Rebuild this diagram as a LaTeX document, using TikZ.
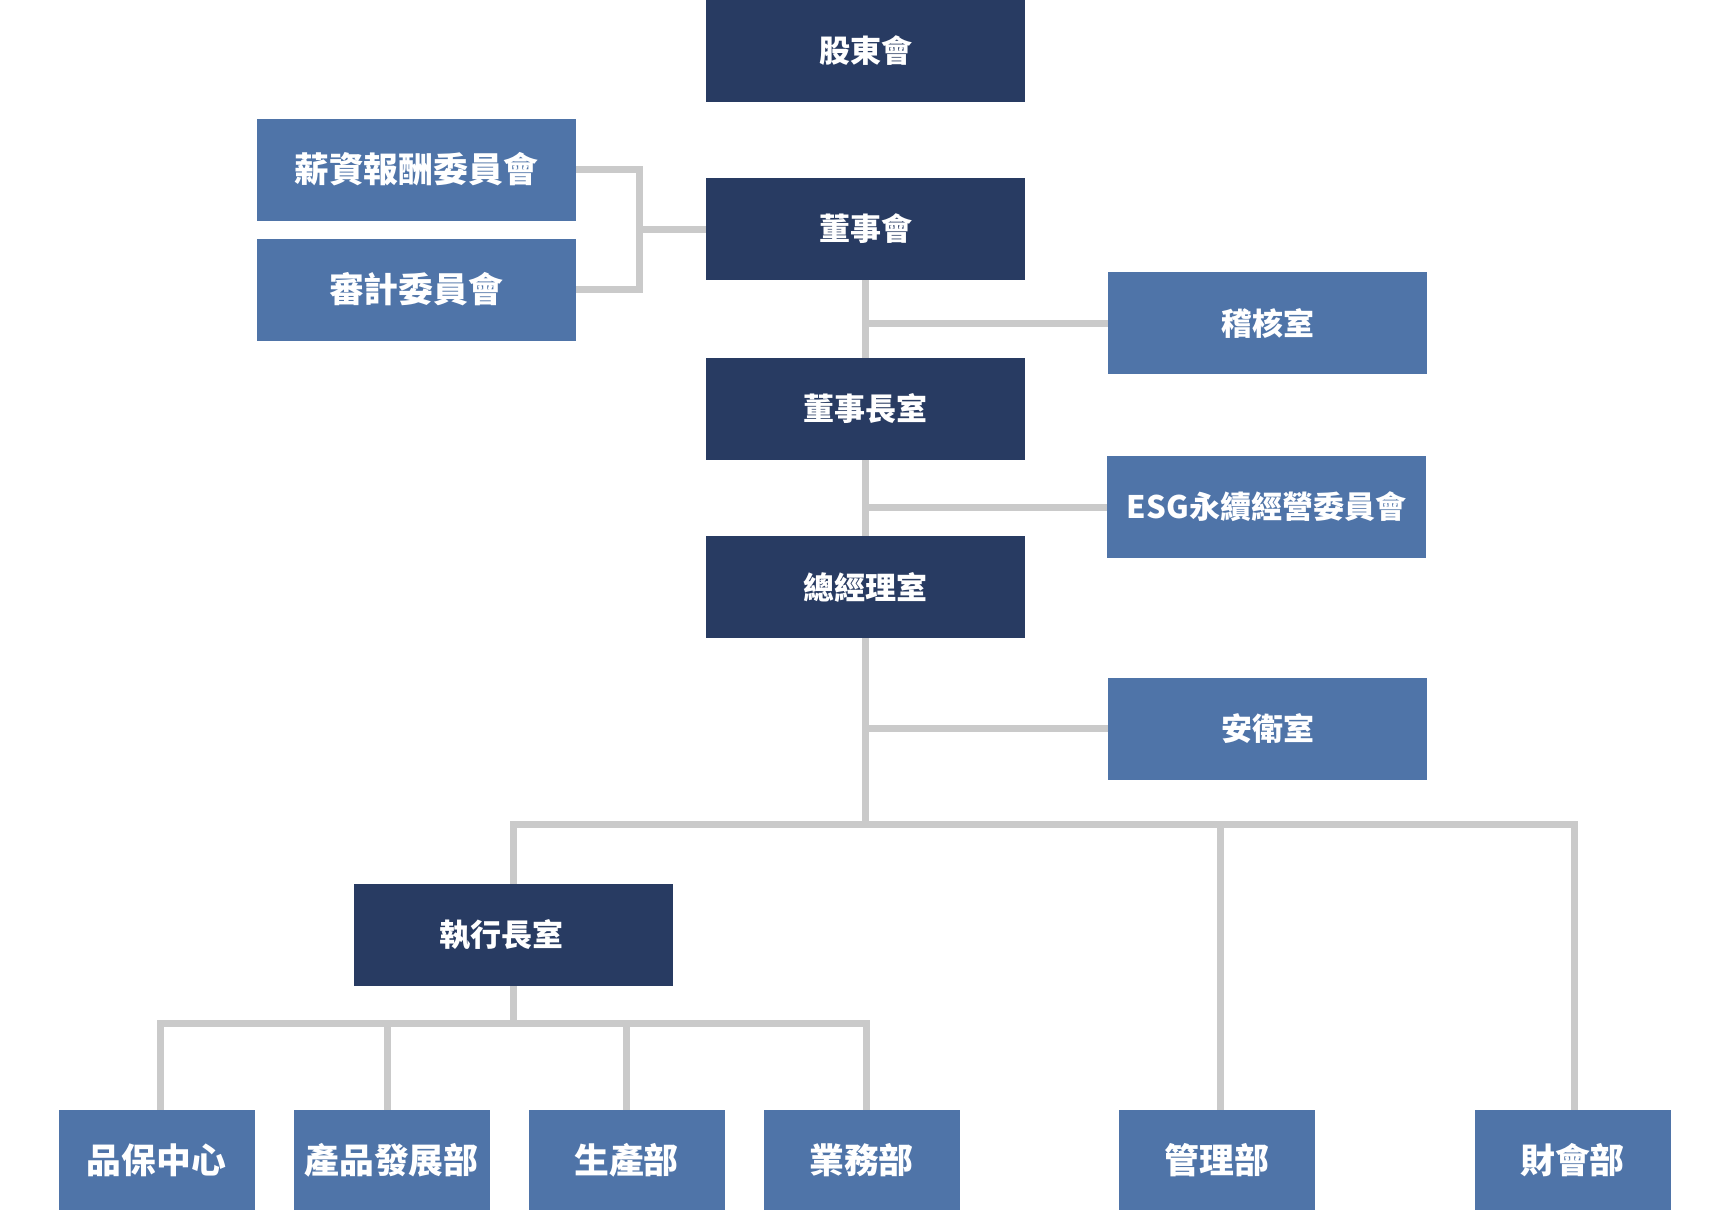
\documentclass[tikz,border=0pt]{standalone}
\usepackage{fontspec}
\setmainfont{Noto Sans CJK TC}
\usepackage{tikz}
\usetikzlibrary{positioning}
\definecolor{navy}{HTML}{283B62}
\definecolor{steel}{HTML}{4F74A8}
\definecolor{linegray}{HTML}{CACACA}

\begin{document}
\begin{tikzpicture}[x=0.5pt, y=-0.5pt,
        topnode/.style={rectangle, fill=navy, text=white, minimum width=159.5pt, minimum height=51pt, font=\bfseries\fontsize{15.5}{18}\selectfont},
        sidenode/.style={topnode, fill=steel},
        cmtnode/.style={sidenode, font=\bfseries\fontsize{17.4}{20}\selectfont},
        deptnode/.style={cmtnode, minimum width=98pt, minimum height=50pt},
        link/.style={draw=linegray, line width=3.5pt}]

        \useasboundingbox (0,0) rectangle (1732,1210);

        \node[topnode] (holders) at (865.5,51) {股東會};
        \node[topnode] (board) at (865.5,229) {董事會};
        \node[topnode] (chair) at (865.5,409) {董事長室};
        \node[topnode] (gm) at (865.5,587) {總經理室};
        \node[topnode] (ceo) at (513,935) {\hspace*{-12pt}執行長室};

        \node[cmtnode] (pay) at (416,169.5) {薪資報酬委員會};
        \node[cmtnode] (audit) at (416,289.5) {審計委員會};
        \node[sidenode] (internal) at (1267.5,323) {稽核室};
        \node[sidenode] (esg) at (1266.5,507) {ESG永續經營委員會};
        \node[sidenode] (safety) at (1267.5,728.5) {安衛室};

        \node[deptnode] (qa) at (156.5,1160) {品保中心};
        \node[deptnode] (rd) at (391.5,1160) {產品發展部};
        \node[deptnode] (prod) at (626.5,1160) {生產部};
        \node[deptnode] (sales) at (861.5,1160) {業務部};
        \node[deptnode] (admin) at (1217,1160) {管理部};
        \node[deptnode] (fin) at (1572.5,1160) {財會部};

        % committees
        \coordinate (cjoin) at (639,229);
        \draw[link] (pay.east) -| (cjoin) |- (audit.east);
        \draw[link] (cjoin) -- (board.west);

        % main line
        \draw[link] (board.south) -- (chair.north);
        \draw[link] (board.south |- internal.west) -- (internal.west);
        \draw[link] (chair.south) -- (gm.north);
        \draw[link] (chair.south |- esg.west) -- (esg.west);
        \coordinate (hub) at (866,824);
        \draw[link] (gm.south) -- (gm.south |- hub);
        \draw[link] (gm.south |- safety.west) -- (safety.west);
        \draw[link] (ceo.north) |- (hub) -| ([xshift=0.75pt]fin.north);
        \draw[link] ([xshift=1.5pt]admin.north) |- (hub);

        % departments
        \coordinate (lowhub) at (513.5,1023);
        \draw[link] (ceo.south) -- (ceo.south |- lowhub);
        \draw[link] ([xshift=1.75pt]qa.north) |- (lowhub) -| ([xshift=2.25pt]sales.north);
        \draw[link] ([xshift=-2.25pt]rd.north) |- (lowhub);
        \draw[link] (prod.north) |- (lowhub);

\end{tikzpicture}
\end{document}
